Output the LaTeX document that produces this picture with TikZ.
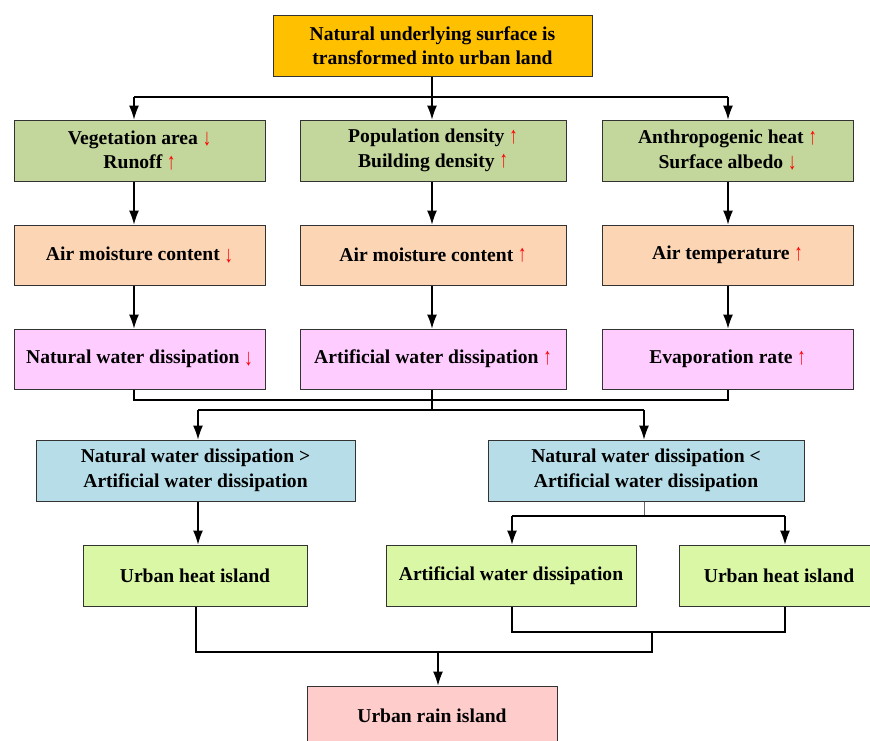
\documentclass[tikz,border=0pt]{standalone}
\usepackage{fontspec}
\setmainfont{Liberation Serif}
\usetikzlibrary{arrows.meta,shadows}
\definecolor{cTop}{HTML}{FFC000}
\definecolor{cGreen}{HTML}{C3D69B}
\definecolor{cPeach}{HTML}{FCD5B5}
\definecolor{cPink}{HTML}{FFCCFF}
\definecolor{cBlue}{HTML}{B7DEE8}
\definecolor{cLime}{HTML}{DAF7A6}
\definecolor{cRose}{HTML}{FFCCCC}
\newcommand{\upred}{\textcolor{red}{\raisebox{-0.5pt}{\scalebox{0.85}[1.2]{↑}}}}
\newcommand{\dnred}{\textcolor{red}{\raisebox{-1.5pt}{\scalebox{0.85}[1.2]{↓}}}}
\begin{document}
\begin{tikzpicture}[x=1pt,y=-1pt,
  box/.style={draw=black!80, line width=1pt, align=center,
    font=\bfseries\fontsize{19.6}{24.5}\selectfont, inner sep=0pt,
    drop shadow={shadow xshift=1.2pt, shadow yshift=-1.2pt, fill=black!40, opacity=0.6}},
  arr/.style={-{Latex[length=14pt,width=10pt]}, line width=1.1pt, draw=black},
  ln/.style={line width=1.1pt, draw=black}]
\useasboundingbox (0,0) rectangle (870,740);
\fill[white] (0,0) rectangle (870,740);
\clip (0,0) rectangle (870,740);

% top
\node[box, fill=cTop, minimum width=319pt, minimum height=61pt] (top) at (432.5,45.5)
  {Natural underlying surface is\\transformed into urban land};
% row 1
\node[box, fill=cGreen, minimum width=251pt, minimum height=61pt] (g1) at (139.5,150.5)
  {Vegetation area \dnred\\Runoff \upred};
\node[box, fill=cGreen, minimum width=266pt, minimum height=61pt] (g2) at (433,150.5)
  {Population density \upred\\Building density \upred};
\node[box, fill=cGreen, minimum width=251pt, minimum height=61pt] (g3) at (727.5,150.5)
  {Anthropogenic heat \upred\\Surface albedo \dnred};
% row 2
\node[box, fill=cPeach, minimum width=251pt, minimum height=60pt] (o1) at (139.5,255)
  {Air moisture content \dnred};
\node[box, fill=cPeach, minimum width=266pt, minimum height=60pt] (o2) at (433,255)
  {Air moisture content \upred};
\node[box, fill=cPeach, minimum width=251pt, minimum height=60pt] (o3) at (727.5,255)
  {Air temperature \upred};
% row 3
\node[box, fill=cPink, minimum width=251pt, minimum height=60pt] (p1) at (139.5,359)
  {Natural water dissipation \dnred};
\node[box, fill=cPink, minimum width=266pt, minimum height=60pt] (p2) at (433,359)
  {Artificial water dissipation \upred};
\node[box, fill=cPink, minimum width=251pt, minimum height=60pt] (p3) at (727.5,359)
  {Evaporation rate \upred};
% row 4
\node[box, fill=cBlue, minimum width=319pt, minimum height=61pt] (b1) at (195.5,470.5)
  {Natural water dissipation >\\Artificial water dissipation};
\node[box, fill=cBlue, minimum width=316pt, minimum height=61pt] (b2) at (646,470.5)
  {Natural water dissipation <\\Artificial water dissipation};
% row 5
\node[box, fill=cLime, minimum width=224pt, minimum height=61pt] (l1) at (195,575.5)
  {Urban heat island};
\node[box, fill=cLime, minimum width=250pt, minimum height=61pt] (l2) at (511,575.5)
  {Artificial water dissipation};
\node[box, fill=cLime, minimum width=200pt, minimum height=61pt] (l3) at (779,575.5)
  {Urban heat island};
% bottom
\node[box, fill=cRose, minimum width=250pt, minimum height=60pt] (r) at (432,716)
  {Urban rain island};

% columns / junctions
\coordinate (aL) at (134,97);
\coordinate (aM) at (432,97);
\coordinate (aR) at (728,97);
\draw[ln] (top.south -| aM) -- (aM);
\draw[ln] (aL) -- (aR);
\draw[arr] (aL) -- (aL |- g1.north);
\draw[arr] (aM) -- (aM |- g2.north);
\draw[arr] (aR) -- (aR |- g3.north);

\draw[arr] (g1.south -| aL) -- (o1.north -| aL);
\draw[arr] (g2.south -| aM) -- (o2.north -| aM);
\draw[arr] (g3.south -| aR) -- (o3.north -| aR);
\draw[arr] (o1.south -| aL) -- (p1.north -| aL);
\draw[arr] (o2.south -| aM) -- (p2.north -| aM);
\draw[arr] (o3.south -| aR) -- (p3.north -| aR);

\coordinate (m1) at (432,400);
\coordinate (m2) at (432,410);
\coordinate (bL) at (198,410);
\coordinate (bR) at (644,410);
\draw[ln] (p1.south -| aL) -- (m1 -| aL) -- (m1 -| aR) -- (p3.south -| aR);
\draw[ln] (p2.south -| aM) -- (m2);
\draw[ln] (bL) -- (bR);
\draw[arr] (bL) -- (bL |- b1.north);
\draw[arr] (bR) -- (bR |- b2.north);

\draw[arr] (b1.south -| bL) -- (l1.north -| bL);

\coordinate (s1) at (644,516);
\coordinate (sL) at (512,516);
\coordinate (sR) at (785,516);
\draw[line width=0.9pt, draw=black!60] (b2.south -| s1) -- (s1);
\draw[ln] (sL) -- (sR);
\draw[arr] (sL) -- (sL |- l2.north);
\draw[arr] (sR) -- (sR |- l3.north);

\coordinate (k1) at (652,632);
\coordinate (k2) at (652,652);
\coordinate (kL) at (196,652);
\coordinate (kA) at (438,652);
\draw[ln] (l2.south -| sL) -- (k1 -| sL) -- (k1 -| sR) -- (l3.south -| sR);
\draw[ln] (k1) -- (k2) -- (kL) -- (l1.south -| kL);
\draw[arr] (kA) -- (r.north -| kA);
\end{tikzpicture}
\end{document}
